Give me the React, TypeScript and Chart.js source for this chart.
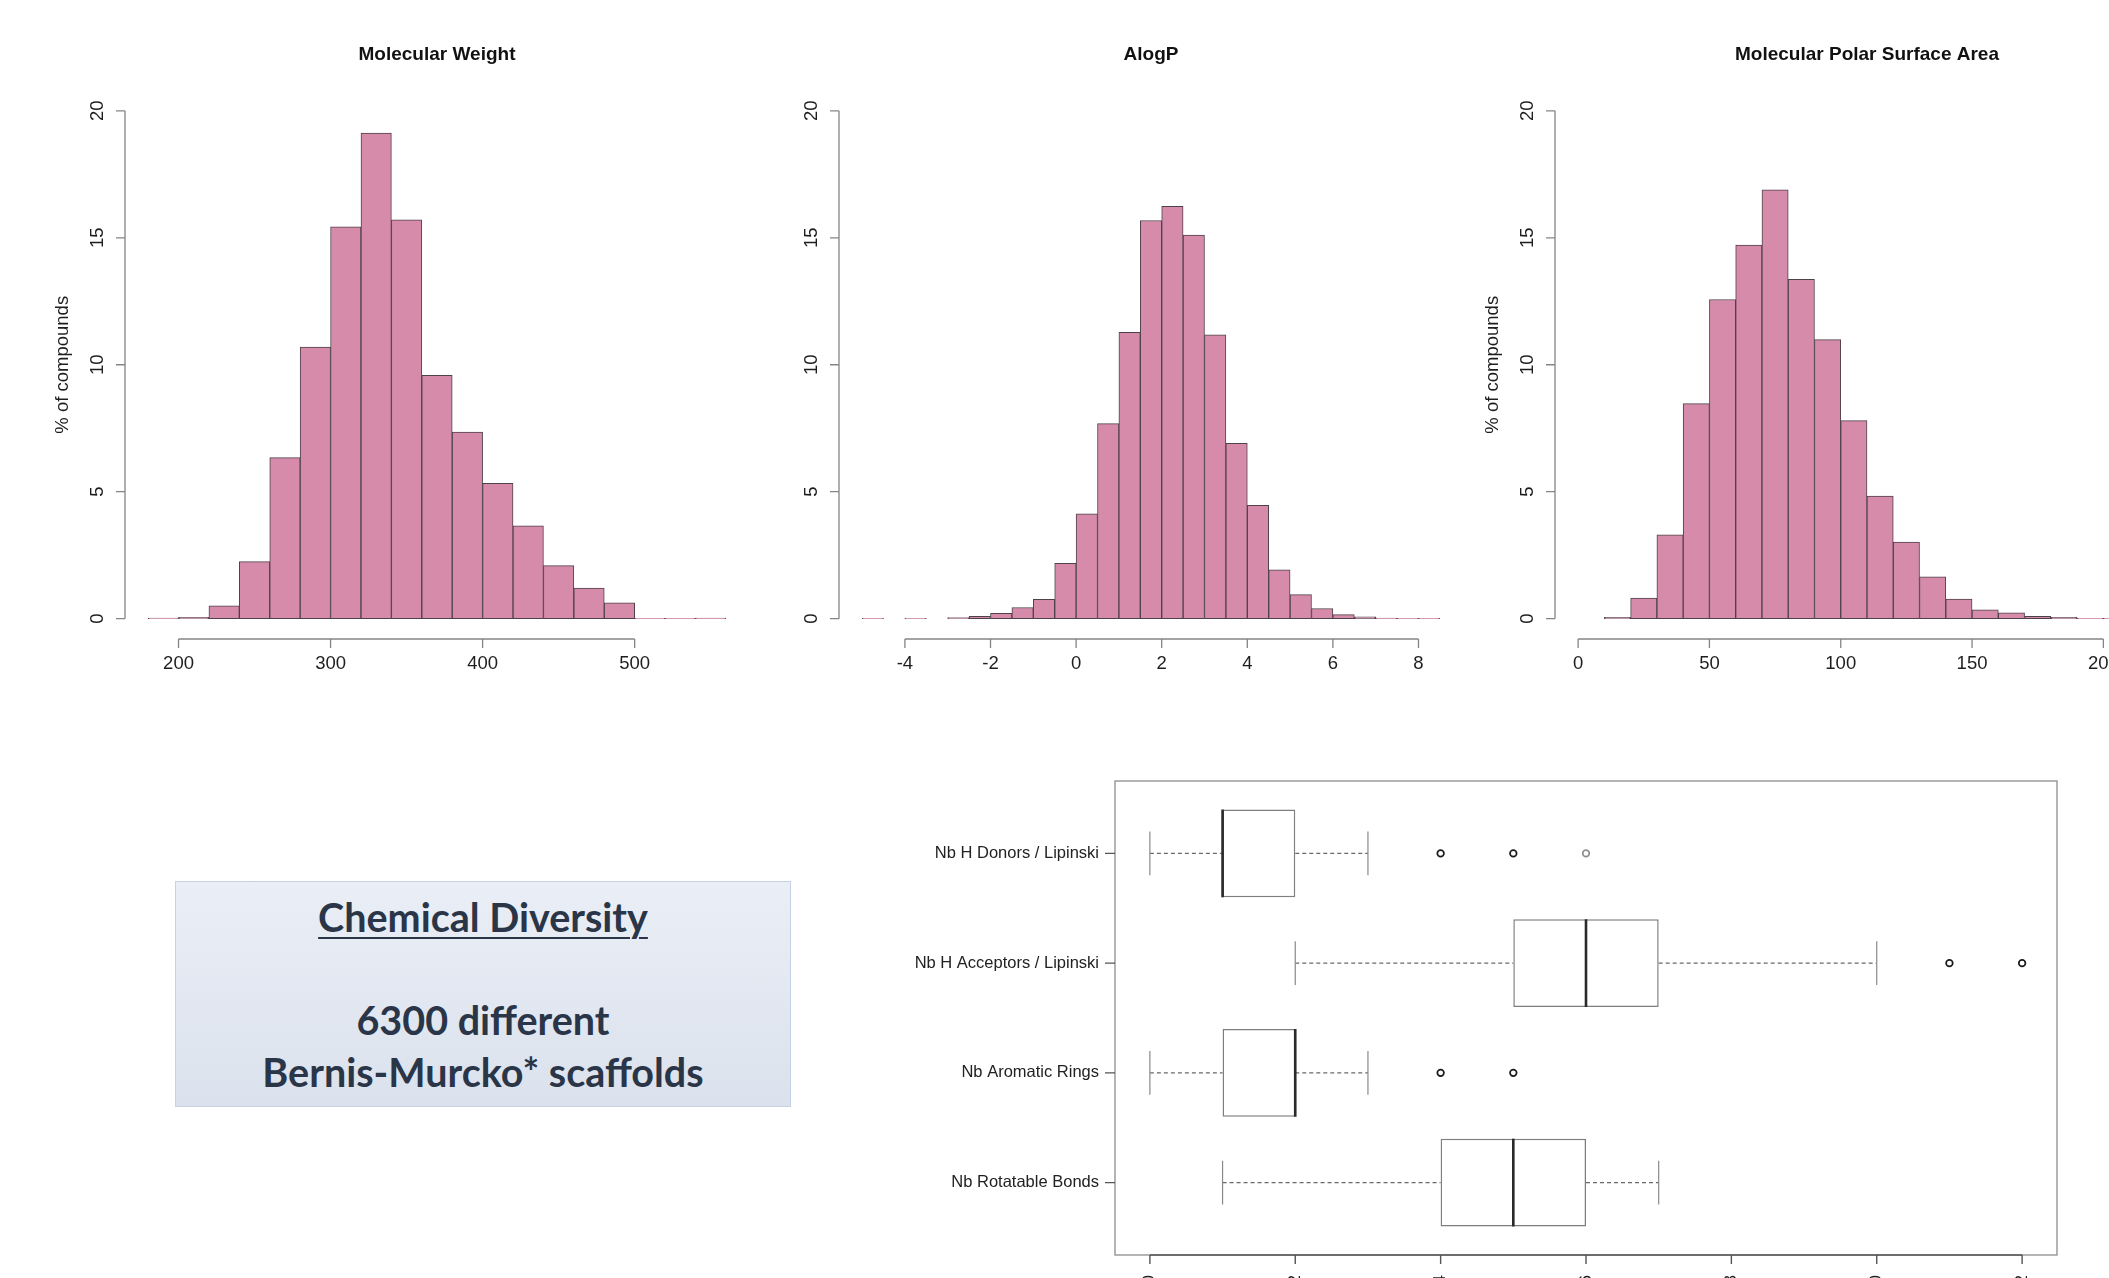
import React, { useEffect, useRef } from 'react';
import { Chart, registerables } from 'chart.js';

Chart.register(...registerables);

// ---------------- DATA ----------------
const mwEdges = [180, 200, 220, 240, 260, 280, 300, 320, 340, 360, 380, 400, 420, 440, 460, 480, 500, 520, 540, 560];
const mwPct = [0.02, 0.05, 0.51, 2.25, 6.34, 10.7, 15.43, 19.12, 15.71, 9.58, 7.35, 5.33, 3.66, 2.09, 1.21, 0.62, 0.01, 0.01, 0.02];
const mwTicks = [200, 300, 400, 500];

const alogpEdges = [-5, -4.5, -4, -3.5, -3, -2.5, -2, -1.5, -1, -0.5, 0, 0.5, 1, 1.5, 2, 2.5, 3, 3.5, 4, 4.5, 5, 5.5, 6, 6.5, 7, 7.5, 8, 8.5];
const alogpPct = [0.01, 0, 0.01, 0, 0.04, 0.09, 0.21, 0.44, 0.76, 2.18, 4.13, 7.68, 11.28, 15.68, 16.24, 15.11, 11.18, 6.91, 4.46, 1.92, 0.95, 0.4, 0.16, 0.07, 0.02, 0.01, 0.01];
const alogpTicks = [-4, -2, 0, 2, 4, 6, 8];

const mpsaEdges = [0, 10, 20, 30, 40, 50, 60, 70, 80, 90, 100, 110, 120, 130, 140, 150, 160, 170, 180, 190, 200, 210, 220];
const mpsaPct = [0, 0.05, 0.81, 3.3, 8.47, 12.57, 14.71, 16.89, 13.36, 10.99, 7.8, 4.83, 3.02, 1.65, 0.77, 0.35, 0.23, 0.09, 0.05, 0.01, 0.01, 0.01];
const mpsaTicks = [0, 50, 100, 150, 200];

const histYTicks = [0, 5, 10, 15, 20];

const boxLabels = ['Nb H Donors / Lipinski', 'Nb H Acceptors / Lipinski', 'Nb Aromatic Rings', 'Nb Rotatable Bonds'];
const boxLow = [0, 2, 0, 1];
const boxQ1 = [1, 5, 1, 4];
const boxMedian = [1, 6, 2, 5];
const boxQ3 = [2, 7, 2, 6];
const boxHigh = [3, 10, 3, 7];
const boxOutliers = [[4, 5, 6], [11, 12], [4, 5], []];
const boxXTicks = [0, 2, 4, 6, 8, 10, 12];

// ---------------- STYLE ----------------
const FONT = '"Liberation Sans", Arial, Helvetica, sans-serif';
const BAR_FILL = 'rgb(214,139,170)';
const BAR_EDGE = 'rgb(78,66,74)';
const AXIS = '#858585';
const TEXT = '#1e1e1e';
const PLOT_TOP = 90.5;
const PLOT_BOTTOM = 639;
const HIST_H = 700;

const rHistAxes = {
  id: 'rHistAxes',
  afterDraw(chart: any, _args: any, opts: any) {
    const { ctx, chartArea } = chart;
    const xs = chart.scales.x;
    const ys = chart.scales.y;
    ctx.save();
    ctx.strokeStyle = AXIS;
    ctx.lineWidth = 1.3;
    const xt: number[] = opts.xTicks;
    const yb = chartArea.bottom;
    ctx.beginPath();
    ctx.moveTo(xs.getPixelForValue(xt[0]), yb);
    ctx.lineTo(xs.getPixelForValue(xt[xt.length - 1]), yb);
    xt.forEach((v) => {
      const px = xs.getPixelForValue(v);
      ctx.moveTo(px, yb);
      ctx.lineTo(px, yb + 9);
    });
    const yt: number[] = opts.yTicks;
    const xl = chartArea.left;
    ctx.moveTo(xl, ys.getPixelForValue(yt[0]));
    ctx.lineTo(xl, ys.getPixelForValue(yt[yt.length - 1]));
    yt.forEach((v) => {
      const py = ys.getPixelForValue(v);
      ctx.moveTo(xl, py);
      ctx.lineTo(xl - 9, py);
    });
    ctx.stroke();

    ctx.fillStyle = TEXT;
    ctx.font = `18.5px ${FONT}`;
    ctx.textAlign = 'center';
    ctx.textBaseline = 'middle';
    xt.forEach((v) => {
      ctx.fillText(String(v), xs.getPixelForValue(v), yb + 25);
    });
    yt.forEach((v) => {
      const py = ys.getPixelForValue(v);
      ctx.save();
      ctx.translate(xl - 27, py);
      ctx.rotate(-Math.PI / 2);
      ctx.fillText(String(v), 0, 0);
      ctx.restore();
    });
    if (opts.ylab) {
      ctx.save();
      ctx.translate(xl - 62, (chartArea.top + chartArea.bottom) / 2);
      ctx.rotate(-Math.PI / 2);
      ctx.fillText(opts.ylab, 0, 0);
      ctx.restore();
    }
    ctx.font = `bold 19px ${FONT}`;
    ctx.fillStyle = '#111';
    ctx.fillText(opts.title, (chartArea.left + chartArea.right) / 2, 55);
    ctx.restore();
  },
};

type HistProps = {
  title: string;
  edges: number[];
  values: number[];
  xTicks: number[];
  xMin: number;
  xMax: number;
  ylab?: string;
  left: number;
  width: number;
  padLeft: number;
  padRight: number;
};

function Histogram(p: HistProps) {
  const ref = useRef<HTMLCanvasElement>(null);
  useEffect(() => {
    const data = p.values.map((v, i) => ({ x: (p.edges[i] + p.edges[i + 1]) / 2, y: v }));
    const chart = new Chart(ref.current as HTMLCanvasElement, {
      type: 'bar',
      data: {
        datasets: [
          {
            data: data as any,
            backgroundColor: BAR_FILL,
            borderColor: BAR_EDGE,
            borderWidth: 1,
            borderSkipped: false,
            barPercentage: 1,
            categoryPercentage: 1,
          },
        ],
      },
      options: {
        responsive: false,
        animation: false,
        events: [],
        layout: { padding: { left: p.padLeft, right: p.padRight, top: PLOT_TOP, bottom: HIST_H - PLOT_BOTTOM } },
        plugins: {
          legend: { display: false },
          tooltip: { enabled: false },
          rHistAxes: { title: p.title, xTicks: p.xTicks, yTicks: histYTicks, ylab: p.ylab },
        } as any,
        scales: {
          x: {
            type: 'linear',
            min: p.xMin,
            max: p.xMax,
            offset: false,
            display: false,
            afterBuildTicks: (s: any) => {
              s.ticks = p.xTicks.map((v) => ({ value: v }));
            },
          },
          y: {
            type: 'linear',
            min: -0.8,
            max: 20.8,
            offset: false,
            display: false,
            afterBuildTicks: (s: any) => {
              s.ticks = histYTicks.map((v) => ({ value: v }));
            },
          },
        },
      },
      plugins: [rHistAxes],
    });
    return () => chart.destroy();
  }, []);
  return (
    <canvas
      ref={ref}
      width={p.width}
      height={HIST_H}
      style={{ position: 'absolute', left: p.left, top: 0, width: p.width, height: HIST_H }}
    />
  );
}

const rBoxPlugin = {
  id: 'rBox',
  afterDatasetsDraw(chart: any) {
    const { ctx } = chart;
    const xs = chart.scales.x;
    const ys = chart.scales.y;
    const unit = Math.abs(ys.getPixelForValue(2) - ys.getPixelForValue(1));
    const half = unit * 0.4;
    ctx.save();
    boxLabels.forEach((_, i) => {
      const cy = ys.getPixelForValue(i + 1);
      ctx.strokeStyle = '#6a6a6a';
      ctx.lineWidth = 1.2;
      ctx.setLineDash([4, 3]);
      ctx.beginPath();
      ctx.moveTo(xs.getPixelForValue(boxLow[i]), cy);
      ctx.lineTo(xs.getPixelForValue(boxQ1[i]), cy);
      ctx.moveTo(xs.getPixelForValue(boxQ3[i]), cy);
      ctx.lineTo(xs.getPixelForValue(boxHigh[i]), cy);
      ctx.stroke();
      ctx.setLineDash([]);
      ctx.strokeStyle = '#8a8a8a';
      ctx.beginPath();
      [boxLow[i], boxHigh[i]].forEach((v) => {
        const px = xs.getPixelForValue(v);
        ctx.moveTo(px, cy - half / 2);
        ctx.lineTo(px, cy + half / 2);
      });
      ctx.stroke();
      ctx.strokeStyle = '#2a2a2a';
      ctx.lineWidth = 2.6;
      ctx.beginPath();
      const mx = xs.getPixelForValue(boxMedian[i]);
      ctx.moveTo(mx, cy - half);
      ctx.lineTo(mx, cy + half);
      ctx.stroke();
    });
    ctx.restore();
  },
  afterDraw(chart: any) {
    const { ctx, chartArea } = chart;
    const xs = chart.scales.x;
    const ys = chart.scales.y;
    ctx.save();
    ctx.strokeStyle = '#8c8c8c';
    ctx.lineWidth = 1.3;
    ctx.strokeRect(chartArea.left, chartArea.top, chartArea.right - chartArea.left, chartArea.bottom - chartArea.top);
    ctx.strokeStyle = '#555';
    ctx.lineWidth = 1.2;
    ctx.beginPath();
    boxLabels.forEach((_, i) => {
      const py = ys.getPixelForValue(i + 1);
      ctx.moveTo(chartArea.left, py);
      ctx.lineTo(chartArea.left - 10, py);
    });
    ctx.stroke();
    ctx.fillStyle = '#222';
    ctx.font = `16.5px ${FONT}`;
    ctx.textAlign = 'right';
    ctx.textBaseline = 'middle';
    boxLabels.forEach((lab, i) => {
      ctx.fillText(lab, chartArea.left - 16, ys.getPixelForValue(i + 1));
    });
    const yb = chartArea.bottom;
    ctx.strokeStyle = '#555';
    ctx.lineWidth = 1.4;
    ctx.beginPath();
    ctx.moveTo(xs.getPixelForValue(boxXTicks[0]), yb);
    ctx.lineTo(xs.getPixelForValue(boxXTicks[boxXTicks.length - 1]), yb);
    boxXTicks.forEach((v) => {
      const px = xs.getPixelForValue(v);
      ctx.moveTo(px, yb);
      ctx.lineTo(px, yb + 9);
    });
    ctx.stroke();
    ctx.fillStyle = '#222';
    boxXTicks.forEach((v) => {
      ctx.save();
      ctx.translate(xs.getPixelForValue(v), yb + 20);
      ctx.rotate(-Math.PI / 2);
      ctx.textAlign = 'right';
      ctx.textBaseline = 'middle';
      ctx.fillText(String(v), 0, 0);
      ctx.restore();
    });
    ctx.restore();
  },
};

function BoxPlot() {
  const ref = useRef<HTMLCanvasElement>(null);
  useEffect(() => {
    const boxes = boxLabels.map((_, i) => ({ x: [boxQ1[i], boxQ3[i]], y: i + 1 }));
    const outPts: { x: number; y: number }[] = [];
    const outColors: string[] = [];
    boxOutliers.forEach((arr, i) =>
      arr.forEach((v, j) => {
        outPts.push({ x: v, y: i + 1 });
        outColors.push(i === 0 && j === 2 ? '#8f8f8f' : '#1a1a1a');
      })
    );
    const chart = new Chart(ref.current as HTMLCanvasElement, {
      type: 'bar',
      data: {
        datasets: [
          {
            indexAxis: 'y',
            data: boxes as any,
            backgroundColor: '#ffffff',
            borderColor: '#7e7e7e',
            borderWidth: 1.5,
            borderSkipped: false,
            barPercentage: 0.8,
            categoryPercentage: 1,
          } as any,
          {
            type: 'scatter',
            data: outPts as any,
            pointRadius: 3.3,
            pointBorderWidth: 1.7,
            pointBackgroundColor: 'rgba(0,0,0,0)',
            pointBorderColor: outColors,
            showLine: false,
          } as any,
        ],
      },
      options: {
        responsive: false,
        animation: false,
        events: [],
        layout: { padding: { left: 235, right: 52, top: 21, bottom: 23 } },
        plugins: { legend: { display: false }, tooltip: { enabled: false } },
        scales: {
          x: {
            type: 'linear',
            min: -0.48,
            max: 12.48,
            offset: false,
            display: false,
            afterBuildTicks: (s: any) => {
              s.ticks = boxXTicks.map((v) => ({ value: v }));
            },
          },
          y: {
            type: 'linear',
            min: 0.34,
            max: 4.66,
            reverse: true,
            offset: false,
            display: false,
            afterBuildTicks: (s: any) => {
              s.ticks = boxLabels.map((_, i) => ({ value: i + 1 }));
            },
          },
        },
      },
      plugins: [rBoxPlugin],
    });
    return () => chart.destroy();
  }, []);
  return (
    <canvas
      ref={ref}
      width={1229}
      height={518}
      style={{ position: 'absolute', left: 880, top: 760, width: 1229, height: 518 }}
    />
  );
}

function InfoBox() {
  const txt: React.CSSProperties = {
    position: 'absolute',
    left: 0,
    width: '100%',
    textAlign: 'center',
    fontFamily: 'Lato, "Open Sans", sans-serif',
    fontWeight: 700,
    color: '#2a3548',
    fontSize: 39.5,
    lineHeight: '44px',
    whiteSpace: 'nowrap',
  };
  return (
    <div
      style={{
        position: 'absolute',
        left: 175,
        top: 881,
        width: 614,
        height: 224,
        border: '1px solid #c4d2e4',
        background: 'linear-gradient(#eaeef6, #dbe2ed)',
      }}
    >
      <div style={{ ...txt, top: 13 }}>
        <span style={{ textDecoration: 'underline', textDecorationThickness: 2, textUnderlineOffset: 5 }}>Chemical Diversity</span>
      </div>
      <div style={{ ...txt, top: 116 }}>6300 different</div>
      <div style={{ ...txt, top: 168 }}>Bernis-Murcko* scaffolds</div>
    </div>
  );
}

export default function App() {
  useEffect(() => {
    document.body.style.margin = '0';
  }, []);
  return (
    <div
      style={{
        position: 'fixed',
        left: 0,
        top: 0,
        width: 2109,
        height: 1278,
        overflow: 'hidden',
        background: '#ffffff',
      }}
    >
      <Histogram
        title="Molecular Weight"
        edges={mwEdges}
        values={mwPct}
        xTicks={mwTicks}
        xMin={164.8}
        xMax={575.2}
        ylab="% of compounds"
        left={0}
        width={760}
        padLeft={125}
        padRight={11}
      />
      <Histogram
        title="AlogP"
        edges={alogpEdges}
        values={alogpPct}
        xTicks={alogpTicks}
        xMin={-5.54}
        xMax={9.04}
        left={760}
        width={720}
        padLeft={79}
        padRight={17}
      />
      <Histogram
        title="Molecular Polar Surface Area"
        edges={mpsaEdges}
        values={mpsaPct}
        xTicks={mpsaTicks}
        xMin={-8.8}
        xMax={228.8}
        ylab="% of compounds"
        left={1480}
        width={720}
        padLeft={75}
        padRight={21}
      />
      <InfoBox />
      <BoxPlot />
    </div>
  );
}
